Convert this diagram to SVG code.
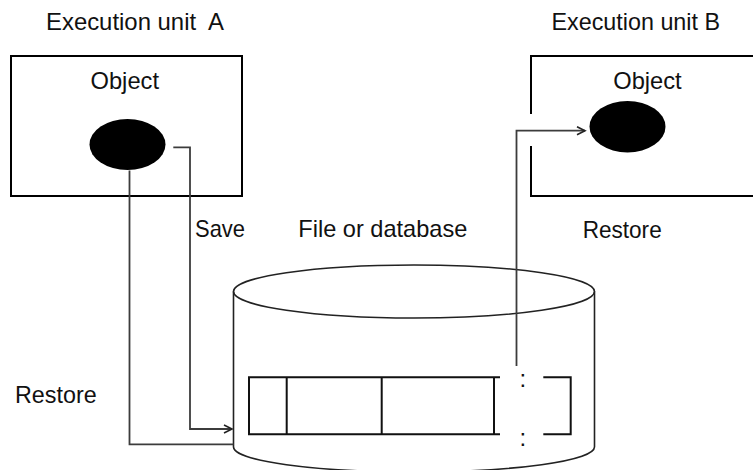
<svg xmlns="http://www.w3.org/2000/svg" width="753" height="470" viewBox="0 0 753 470">
<style>
.t{font-family:"Liberation Sans",Arial,sans-serif;font-size:24px;fill:#111}
.box{fill:none;stroke:#000;stroke-width:2}
.cyl{fill:none;stroke:#222;stroke-width:1.6}
.rec{fill:none;stroke:#111;stroke-width:2}
.con{fill:none;stroke:#3c3c3c;stroke-width:1.8}
</style>
<defs>
<marker id="arr" markerUnits="userSpaceOnUse" markerWidth="12" markerHeight="12" refX="9" refY="5" orient="auto">
<path d="M1,1 L9,5 L1,9" fill="none" stroke="#222" stroke-width="1.6"/>
</marker>
</defs>
<rect width="753" height="470" fill="#fff"/>

<g id="unitA">
<text class="t" x="46" y="30" textLength="178" lengthAdjust="spacingAndGlyphs" xml:space="preserve">Execution unit  A</text>
<rect class="box" x="11" y="56" width="231" height="140"/>
<text class="t" x="90.5" y="89" textLength="68.5" lengthAdjust="spacingAndGlyphs">Object</text>
<ellipse cx="127.5" cy="144.5" rx="38" ry="25.5" fill="#000"/>
</g>

<g id="unitB">
<text class="t" x="551.5" y="30" textLength="168.5" lengthAdjust="spacingAndGlyphs">Execution unit B</text>
<path class="box" d="M770,56 H531 V114 M531,146 V196 H770"/>
<text class="t" x="613.3" y="89" textLength="68.4" lengthAdjust="spacingAndGlyphs">Object</text>
<ellipse cx="627.5" cy="126.7" rx="38" ry="25.7" fill="#000"/>
</g>

<g id="database">
<text class="t" x="298.3" y="237" textLength="169" lengthAdjust="spacingAndGlyphs">File or database</text>
<path class="cyl" d="M233.5,291.5 V447 A180.5,25 0 0 0 594.5,447 V291.5"/>
<ellipse class="cyl" cx="414" cy="291.5" rx="180.5" ry="26.5"/>
<path class="rec" d="M500,377.3 H249 V434.3 H500 M286.7,377.3 V434.3 M381.7,377.3 V434.3 M494,377.3 V434.3 M543.3,377.3 H570.7 V434.3 H543.3"/>
<text class="t" x="519.5" y="387">:</text>
<text class="t" x="519.5" y="446">:</text>
</g>

<g id="labels">
<text class="t" x="195" y="236.7" textLength="50" lengthAdjust="spacingAndGlyphs">Save</text>
<text class="t" x="582.7" y="237.5" textLength="79" lengthAdjust="spacingAndGlyphs">Restore</text>
<text class="t" x="15" y="402.7" textLength="81.7" lengthAdjust="spacingAndGlyphs">Restore</text>
</g>

<g id="connectors">
<path class="con" d="M173.3,147.3 H190 V429 H232" marker-end="url(#arr)"/>
<path class="con" d="M129.5,170.5 V444.3 H233.5"/>
<path class="con" d="M516.5,366 V130.7 H585" marker-end="url(#arr)"/>
</g>
</svg>
